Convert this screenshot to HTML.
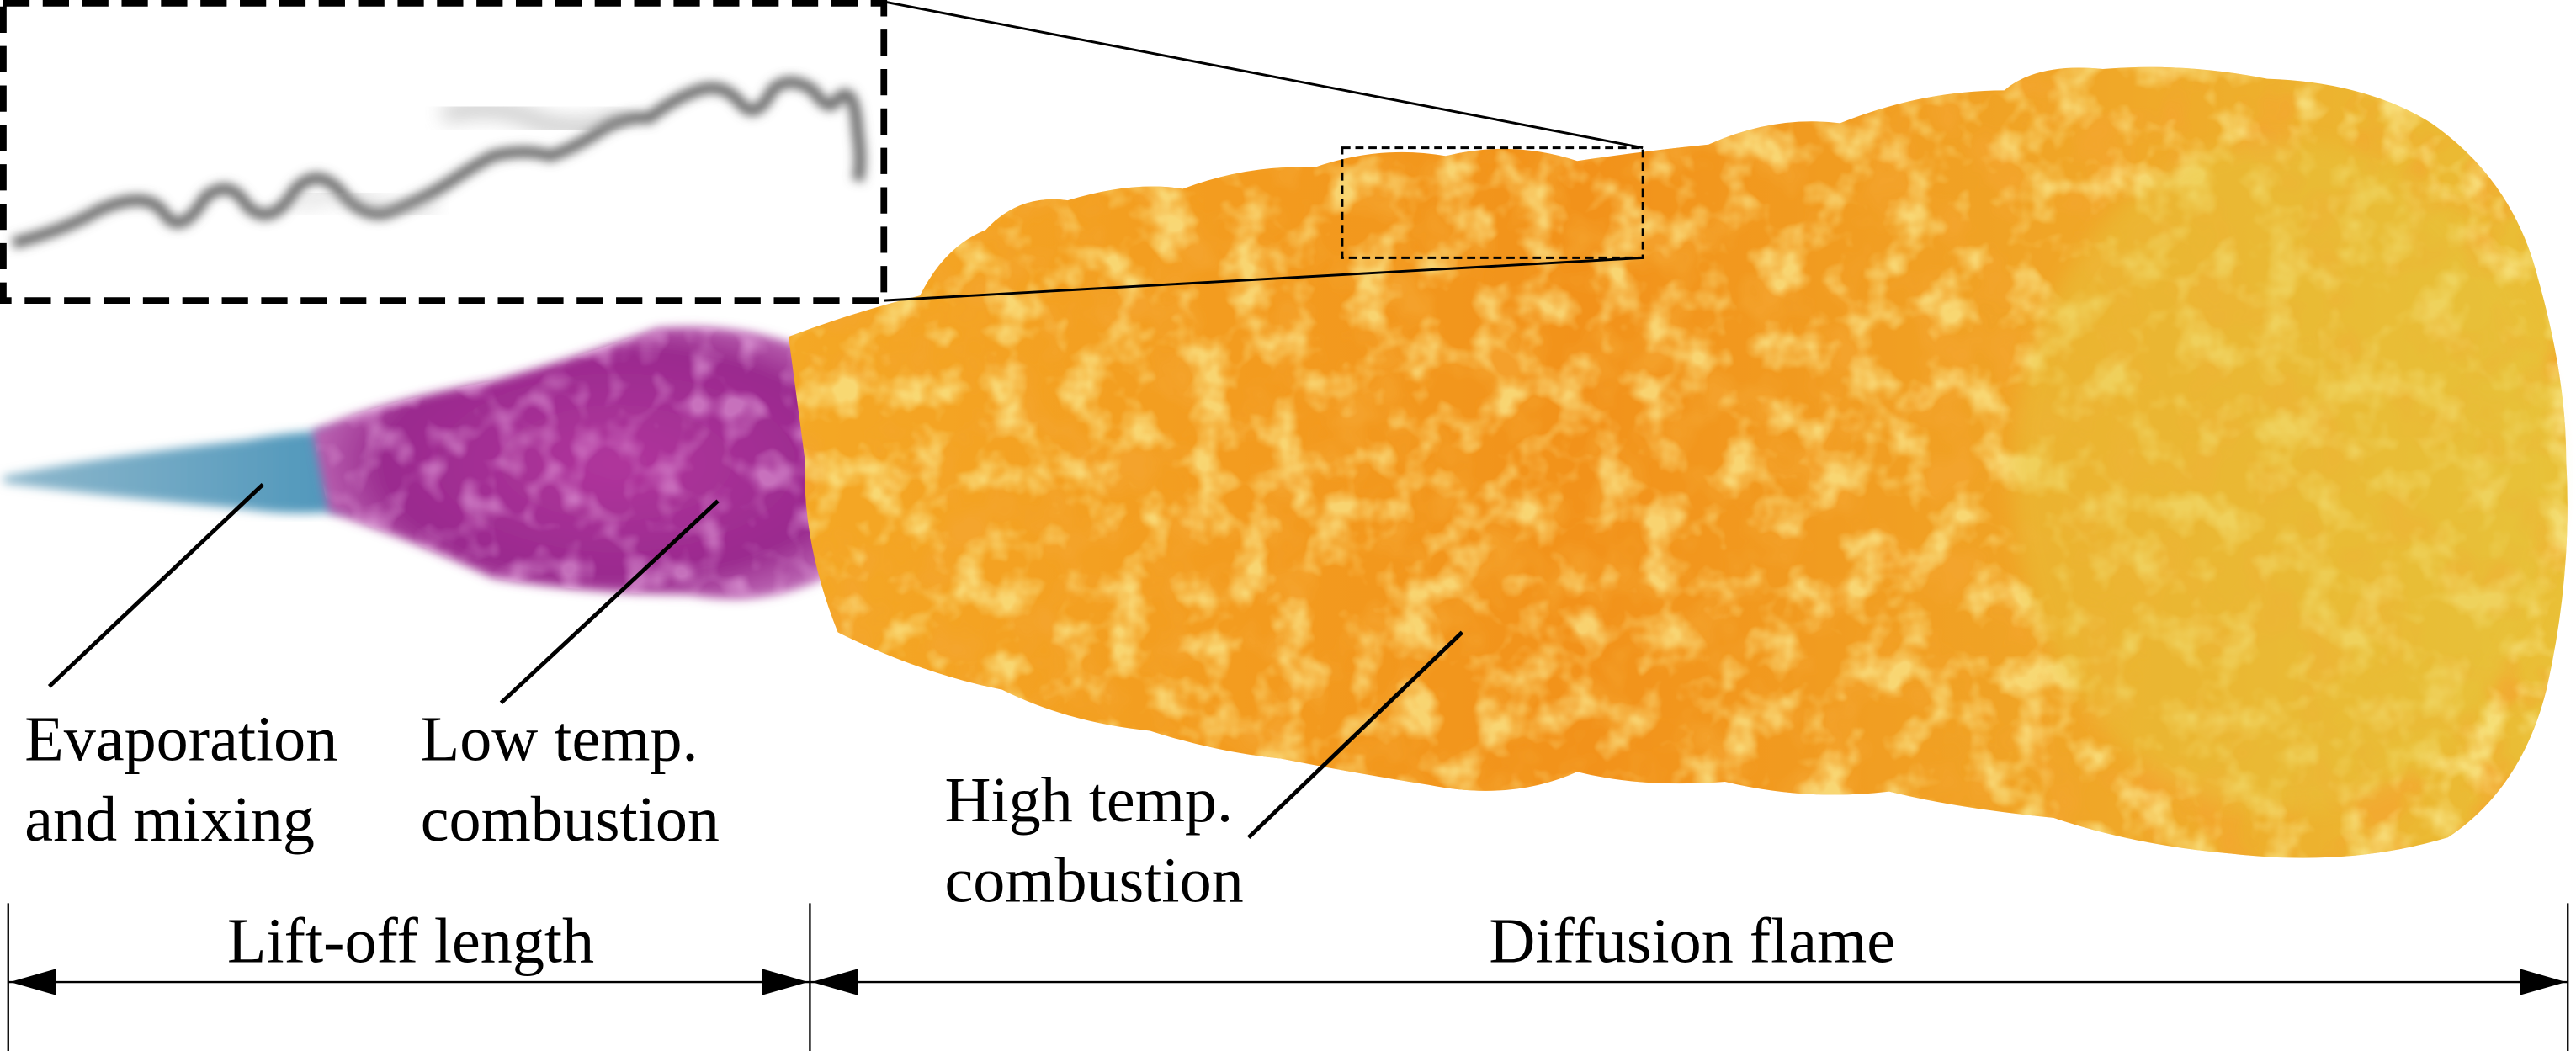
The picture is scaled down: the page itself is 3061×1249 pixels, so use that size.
<!DOCTYPE html>
<html><head><meta charset="utf-8">
<style>
html,body{margin:0;padding:0;background:#fff;}
svg{display:block;}
text{font-family:"Liberation Serif",serif;fill:#000;}
</style></head>
<body>
<svg width="3061" height="1249" viewBox="0 0 1568 640" preserveAspectRatio="none" xmlns="http://www.w3.org/2000/svg">
<defs>
  <filter id="blur3"><feGaussianBlur stdDeviation="3"/></filter>
  <filter id="blur6"><feGaussianBlur stdDeviation="6"/></filter>
  <filter id="texRed" x="0" y="0" width="100%" height="100%">
    <feTurbulence type="fractalNoise" baseFrequency="0.03" numOctaves="3" seed="4" result="n"/>
    <feColorMatrix in="n" type="matrix" values="0 0 0 0 0.91  0 0 0 0 0.38  0 0 0 0 0.03  0 0 0 -3.2 1.75" result="c"/>
    <feComposite in="c" in2="SourceGraphic" operator="in"/>
  </filter>
  <filter id="texYel" x="0" y="0" width="100%" height="100%">
    <feTurbulence type="fractalNoise" baseFrequency="0.04" numOctaves="3" seed="11" result="n"/>
    <feColorMatrix in="n" type="matrix" values="0 0 0 0 0.97  0 0 0 0 0.85  0 0 0 0 0.3  0 0 0 -3.2 1.7" result="c"/>
    <feComposite in="c" in2="SourceGraphic" operator="in"/>
  </filter>
  <filter id="texPur" x="0" y="0" width="100%" height="100%">
    <feTurbulence type="fractalNoise" baseFrequency="0.05" numOctaves="2" seed="7" result="n"/>
    <feColorMatrix in="n" type="matrix" values="0 0 0 0 0.85  0 0 0 0 0.45  0 0 0 0 0.8  0 0 0 -3 1.6" result="c"/>
    <feComposite in="c" in2="SourceGraphic" operator="in"/>
  </filter>
  <linearGradient id="flameGrad" x1="0" x2="1" y1="0" y2="0">
    <stop offset="0" stop-color="#f4a825"/>
    <stop offset="0.45" stop-color="#f2921a"/>
    <stop offset="0.75" stop-color="#f0a828"/>
    <stop offset="1" stop-color="#e9c037"/>
  </linearGradient>
  <radialGradient id="purpleGrad" cx="0.55" cy="0.5" r="0.6">
    <stop offset="0" stop-color="#b0359c"/>
    <stop offset="0.7" stop-color="#9a2a8e"/>
    <stop offset="1" stop-color="#c77bc0"/>
  </radialGradient>
  <linearGradient id="blueGrad" x1="0" x2="1">
    <stop offset="0" stop-color="#8fb8cc"/>
    <stop offset="1" stop-color="#3c8db6"/>
  </linearGradient>
</defs>

<!-- blue spray -->
<path d="M2,290 Q60,278 150,268 Q200,258 240,266 L262,300 Q200,318 150,310 Q60,302 2,294 Z" fill="url(#blueGrad)" filter="url(#blur3)"/>
<!-- purple low temp region -->
<g>
<path d="M190,262 Q230,245 300,232 Q360,215 400,200 Q450,196 490,212 L525,260 Q530,320 515,345 Q470,372 420,362 Q360,362 300,352 Q250,328 200,312 Z" fill="url(#purpleGrad)" filter="url(#blur3)"/>
<path d="M190,262 Q230,245 300,232 Q360,215 400,200 Q450,196 490,212 L525,260 Q530,320 515,345 Q470,372 420,362 Q360,362 300,352 Q250,328 200,312 Z" fill="#000" filter="url(#texPur)" opacity="0.5"/>
</g>

<!-- orange high temp flame -->
<g>
<path d="M480,205 Q520,190 560,180 Q575,150 600,140 Q620,118 650,122 Q690,110 720,115 Q760,100 800,102 Q840,88 880,95 Q920,85 960,98 Q1000,92 1040,88 Q1080,70 1120,75 Q1170,55 1220,55 Q1240,38 1280,42 Q1330,38 1380,48 Q1440,50 1480,75 Q1530,110 1545,170 Q1562,230 1562,280 Q1566,350 1550,420 Q1535,480 1490,510 Q1430,528 1360,520 Q1300,515 1250,498 Q1190,492 1150,482 Q1100,488 1050,476 Q1000,480 960,470 Q920,488 870,478 Q820,470 780,462 Q740,458 700,445 Q650,440 610,420 Q560,410 510,385 Q488,330 490,280 Z" fill="url(#flameGrad)"/>
<path d="M480,205 Q520,190 560,180 Q575,150 600,140 Q620,118 650,122 Q690,110 720,115 Q760,100 800,102 Q840,88 880,95 Q920,85 960,98 Q1000,92 1040,88 Q1080,70 1120,75 Q1170,55 1220,55 Q1240,38 1280,42 Q1330,38 1380,48 Q1440,50 1480,75 Q1530,110 1545,170 Q1562,230 1562,280 Q1566,350 1550,420 Q1535,480 1490,510 Q1430,528 1360,520 Q1300,515 1250,498 Q1190,492 1150,482 Q1100,488 1050,476 Q1000,480 960,470 Q920,488 870,478 Q820,470 780,462 Q740,458 700,445 Q650,440 610,420 Q560,410 510,385 Q488,330 490,280 Z" fill="#000" filter="url(#texRed)" opacity="0.7"/>
<path d="M480,205 Q520,190 560,180 Q575,150 600,140 Q620,118 650,122 Q690,110 720,115 Q760,100 800,102 Q840,88 880,95 Q920,85 960,98 Q1000,92 1040,88 Q1080,70 1120,75 Q1170,55 1220,55 Q1240,38 1280,42 Q1330,38 1380,48 Q1440,50 1480,75 Q1530,110 1545,170 Q1562,230 1562,280 Q1566,350 1550,420 Q1535,480 1490,510 Q1430,528 1360,520 Q1300,515 1250,498 Q1190,492 1150,482 Q1100,488 1050,476 Q1000,480 960,470 Q920,488 870,478 Q820,470 780,462 Q740,458 700,445 Q650,440 610,420 Q560,410 510,385 Q488,330 490,280 Z" fill="#000" filter="url(#texYel)" opacity="0.7"/>
<ellipse cx="1390" cy="290" rx="165" ry="205" fill="#e6c63c" opacity="0.45" filter="url(#blur6)"/>
</g>

<!-- small dashed box -->
<rect x="817" y="90" width="183" height="67" fill="none" stroke="#000" stroke-width="1.5" stroke-dasharray="5,3"/>
<line x1="538" y1="1" x2="1000" y2="90" stroke="#000" stroke-width="1.5"/>
<line x1="538" y1="183" x2="1000" y2="157" stroke="#000" stroke-width="1.5"/>

<!-- inset -->
<g>
<rect x="2" y="2" width="536" height="181" fill="#fff" stroke="#000" stroke-width="4" stroke-dasharray="16,8"/>
<path d="M8,148 Q40,140 60,128 Q90,115 100,130 Q110,145 125,120 Q140,108 150,125 Q165,140 180,115 Q195,100 210,120 Q225,135 240,128 Q260,120 275,110 Q290,100 300,95 Q320,90 335,95 Q350,90 365,80 Q380,70 395,72 Q410,60 425,55 Q440,50 450,62 Q460,75 470,55 Q480,45 495,55 Q505,70 510,60 Q520,50 522,80 Q525,100 522,110" fill="none" stroke="#6a6a6a" stroke-width="7" filter="url(#blur3)"/>
<path d="M270,70 Q300,60 330,75 Q360,82 380,70" fill="none" stroke="#999" stroke-width="9" opacity="0.6" filter="url(#blur6)"/>
<path d="M180,125 Q210,112 230,125 Q250,135 265,122" fill="none" stroke="#aaa" stroke-width="6" opacity="0.5" filter="url(#blur6)"/>
</g>

<!-- leader lines -->
<line x1="30" y1="418" x2="160" y2="295" stroke="#000" stroke-width="2.5"/>
<line x1="305" y1="428" x2="437" y2="305" stroke="#000" stroke-width="2.5"/>
<line x1="760" y1="510" x2="890" y2="385" stroke="#000" stroke-width="2.5"/>

<!-- labels -->
<text font-size="39" x="15" y="463">Evaporation</text>
<text font-size="39" x="15" y="512">and mixing</text>
<text font-size="39" x="256" y="463">Low temp.</text>
<text font-size="39" x="256" y="512">combustion</text>
<text font-size="39" x="575" y="500">High temp.</text>
<text font-size="39" x="575" y="549">combustion</text>

<!-- dimension lines -->
<g stroke="#000" stroke-width="1.2">
<line x1="5" y1="550" x2="5" y2="640"/>
<line x1="493" y1="550" x2="493" y2="640"/>
<line x1="1563" y1="550" x2="1563" y2="640"/>
<line x1="5" y1="598" x2="1563" y2="598"/>
</g>
<g fill="#000">
<polygon points="6,598 34,590 34,606"/>
<polygon points="492,598 464,590 464,606"/>
<polygon points="494,598 522,590 522,606"/>
<polygon points="1562,598 1534,590 1534,606"/>
</g>
<text font-size="39" x="250" y="586" text-anchor="middle">Lift-off length</text>
<text font-size="39" x="1030" y="586" text-anchor="middle">Diffusion flame</text>
</svg>
</body></html>
